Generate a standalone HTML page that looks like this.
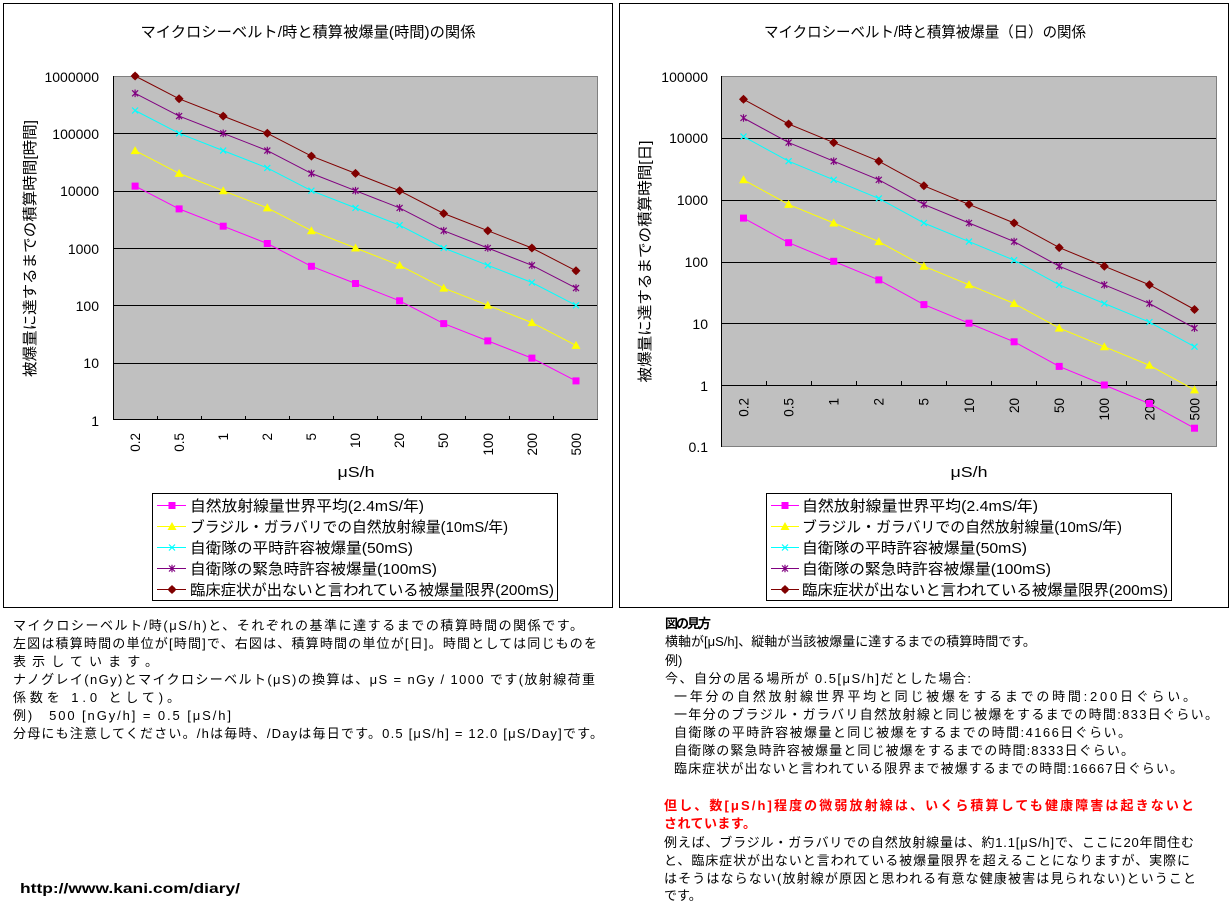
<!DOCTYPE html>
<html><head><meta charset="utf-8">
<style>
html,body{margin:0;padding:0;background:#fff;width:1232px;height:908px;overflow:hidden}
svg{display:block}
</style></head>
<body>
<svg width="1232" height="908" viewBox="0 0 1232 908" font-family="'Liberation Sans','Noto Sans CJK JP',sans-serif">
<defs>
<g id="mSq"><rect x="-3.5" y="-3.5" width="7" height="7" fill="#ff00ff"/></g>
<g id="mTri"><polygon points="0,-4.5 4.5,3.5 -4.5,3.5" fill="#ffff00"/></g>
<g id="mX"><path d="M-3,-3L3,3M-3,3L3,-3" stroke="#00ffff" stroke-width="1.2" fill="none"/></g>
<g id="mAst"><path d="M-3,-3L3,3M-3,3L3,-3M0,-3.8L0,3.8" stroke="#800080" stroke-width="1.2" fill="none"/></g>
<g id="mDia"><polygon points="0,-4.5 4.5,0 0,4.5 -4.5,0" fill="#800000"/><circle r="3.3" fill="#800000"/></g>
</defs>

<!-- ===== Frames ===== -->
<rect x="3.5" y="3.5" width="609" height="604" fill="#fff" stroke="#000" stroke-width="1"/>
<rect x="619.5" y="3.5" width="609" height="604" fill="#fff" stroke="#000" stroke-width="1"/>

<!-- ===== LEFT CHART ===== -->
<text x="308" y="37" font-size="15" text-anchor="middle" textLength="335" lengthAdjust="spacingAndGlyphs">マイクロシーベルト/時と積算被爆量(時間)の関係</text>
<rect x="113" y="76" width="485" height="344" fill="#c0c0c0"/>
<g stroke="#000" stroke-width="1" shape-rendering="crispEdges">
<line x1="113" y1="133.5" x2="598" y2="133.5"/>
<line x1="113" y1="191.5" x2="598" y2="191.5"/>
<line x1="113" y1="248.5" x2="598" y2="248.5"/>
<line x1="113" y1="305.5" x2="598" y2="305.5"/>
<line x1="113" y1="363.5" x2="598" y2="363.5"/>
</g>
<g stroke="#808080" stroke-width="1" shape-rendering="crispEdges">
<line x1="113" y1="76.5" x2="598" y2="76.5"/>
<line x1="597.5" y1="76" x2="597.5" y2="420"/>
</g>
<g stroke="#000" stroke-width="1" shape-rendering="crispEdges">
<line x1="113.5" y1="76" x2="113.5" y2="420"/>
<line x1="113" y1="419.5" x2="598" y2="419.5"/>
<line x1="157.5" y1="416" x2="157.5" y2="420"/>
<line x1="201.5" y1="416" x2="201.5" y2="420"/>
<line x1="245.5" y1="416" x2="245.5" y2="420"/>
<line x1="289.5" y1="416" x2="289.5" y2="420"/>
<line x1="333.5" y1="416" x2="333.5" y2="420"/>
<line x1="377.5" y1="416" x2="377.5" y2="420"/>
<line x1="421.5" y1="416" x2="421.5" y2="420"/>
<line x1="465.5" y1="416" x2="465.5" y2="420"/>
<line x1="509.5" y1="416" x2="509.5" y2="420"/>
<line x1="553.5" y1="416" x2="553.5" y2="420"/>
</g>
<g font-size="14" text-anchor="end" fill="#000">
<text x="99" y="82">1000000</text>
<text x="99" y="139">100000</text>
<text x="99" y="196">10000</text>
<text x="99" y="254">1000</text>
<text x="99" y="311">100</text>
<text x="99" y="368">10</text>
<text x="99" y="426">1</text>
</g>
<g font-size="13.5" text-anchor="end" fill="#000">
<text transform="translate(140,433) rotate(-90)">0.2</text>
<text transform="translate(184,433) rotate(-90)">0.5</text>
<text transform="translate(228,433) rotate(-90)">1</text>
<text transform="translate(272,433) rotate(-90)">2</text>
<text transform="translate(316,433) rotate(-90)">5</text>
<text transform="translate(360,433) rotate(-90)">10</text>
<text transform="translate(404,433) rotate(-90)">20</text>
<text transform="translate(448,433) rotate(-90)">50</text>
<text transform="translate(493,433) rotate(-90)">100</text>
<text transform="translate(537,433) rotate(-90)">200</text>
<text transform="translate(581,433) rotate(-90)">500</text>
</g>
<text transform="translate(35,248.5) rotate(-90)" font-size="15" text-anchor="middle" textLength="257" lengthAdjust="spacingAndGlyphs">被爆量に達するまでの積算時間[時間]</text>
<text x="356" y="477" font-size="15" text-anchor="middle" textLength="37" lengthAdjust="spacingAndGlyphs">μS/h</text>

<!-- series left -->
<polyline fill="none" stroke="#ff00ff" stroke-width="1" points="135.1,186.1 179.1,208.9 223.2,226.2 267.3,243.5 311.4,266.3 355.5,283.5 399.6,300.8 443.7,323.6 487.8,340.9 531.9,358.1 576,380.9"/>
<use href="#mSq" x="135.1" y="186.1"/><use href="#mSq" x="179.1" y="208.9"/><use href="#mSq" x="223.2" y="226.2"/><use href="#mSq" x="267.3" y="243.5"/><use href="#mSq" x="311.4" y="266.3"/><use href="#mSq" x="355.5" y="283.5"/><use href="#mSq" x="399.6" y="300.8"/><use href="#mSq" x="443.7" y="323.6"/><use href="#mSq" x="487.8" y="340.9"/><use href="#mSq" x="531.9" y="358.1"/><use href="#mSq" x="576" y="380.9"/>

<polyline fill="none" stroke="#ffff00" stroke-width="1" points="135.1,150.6 179.1,173.4 223.2,190.7 267.3,207.9 311.4,230.7 355.5,248 399.6,265.3 443.7,288.1 487.8,305.3 531.9,322.6 576,345.4"/>
<use href="#mTri" x="135.1" y="150.6"/><use href="#mTri" x="179.1" y="173.4"/><use href="#mTri" x="223.2" y="190.7"/><use href="#mTri" x="267.3" y="207.9"/><use href="#mTri" x="311.4" y="230.7"/><use href="#mTri" x="355.5" y="248"/><use href="#mTri" x="399.6" y="265.3"/><use href="#mTri" x="443.7" y="288.1"/><use href="#mTri" x="487.8" y="305.3"/><use href="#mTri" x="531.9" y="322.6"/><use href="#mTri" x="576" y="345.4"/>

<polyline fill="none" stroke="#00ffff" stroke-width="1" points="135.1,110.5 179.1,133.3 223.2,150.6 267.3,167.9 311.4,190.7 355.5,207.9 399.6,225.2 443.7,248 487.8,265.3 531.9,282.5 576,305.3"/>
<use href="#mX" x="135.1" y="110.5"/><use href="#mX" x="179.1" y="133.3"/><use href="#mX" x="223.2" y="150.6"/><use href="#mX" x="267.3" y="167.9"/><use href="#mX" x="311.4" y="190.7"/><use href="#mX" x="355.5" y="207.9"/><use href="#mX" x="399.6" y="225.2"/><use href="#mX" x="443.7" y="248"/><use href="#mX" x="487.8" y="265.3"/><use href="#mX" x="531.9" y="282.5"/><use href="#mX" x="576" y="305.3"/>

<polyline fill="none" stroke="#800080" stroke-width="1" points="135.1,93.3 179.1,116.1 223.2,133.3 267.3,150.6 311.4,173.4 355.5,190.7 399.6,207.9 443.7,230.7 487.8,248 531.9,265.3 576,288.1"/>
<use href="#mAst" x="135.1" y="93.3"/><use href="#mAst" x="179.1" y="116.1"/><use href="#mAst" x="223.2" y="133.3"/><use href="#mAst" x="267.3" y="150.6"/><use href="#mAst" x="311.4" y="173.4"/><use href="#mAst" x="355.5" y="190.7"/><use href="#mAst" x="399.6" y="207.9"/><use href="#mAst" x="443.7" y="230.7"/><use href="#mAst" x="487.8" y="248"/><use href="#mAst" x="531.9" y="265.3"/><use href="#mAst" x="576" y="288.1"/>

<polyline fill="none" stroke="#800000" stroke-width="1" points="135.1,76 179.1,98.8 223.2,116.1 267.3,133.3 311.4,156.1 355.5,173.4 399.6,190.7 443.7,213.5 487.8,230.7 531.9,248 576,270.8"/>
<use href="#mDia" x="135.1" y="76"/><use href="#mDia" x="179.1" y="98.8"/><use href="#mDia" x="223.2" y="116.1"/><use href="#mDia" x="267.3" y="133.3"/><use href="#mDia" x="311.4" y="156.1"/><use href="#mDia" x="355.5" y="173.4"/><use href="#mDia" x="399.6" y="190.7"/><use href="#mDia" x="443.7" y="213.5"/><use href="#mDia" x="487.8" y="230.7"/><use href="#mDia" x="531.9" y="248"/><use href="#mDia" x="576" y="270.8"/>

<!-- legend left -->
<rect x="152.5" y="493.5" width="405" height="107" fill="#fff" stroke="#000" stroke-width="1"/>
<g stroke-width="1">
<line x1="157" y1="505.5" x2="186" y2="505.5" stroke="#ff00ff"/><use href="#mSq" x="172" y="505.5"/>
<line x1="157" y1="526.5" x2="186" y2="526.5" stroke="#ffff00"/><use href="#mTri" x="172" y="526.5"/>
<line x1="157" y1="547.5" x2="186" y2="547.5" stroke="#00ffff"/><use href="#mX" x="172" y="547.5"/>
<line x1="157" y1="568.5" x2="186" y2="568.5" stroke="#800080"/><use href="#mAst" x="172" y="568.5"/>
<line x1="157" y1="589.5" x2="186" y2="589.5" stroke="#800000"/><use href="#mDia" x="172" y="589.5"/>
</g>
<g font-size="15" fill="#000">
<text x="190" y="511" textLength="234" lengthAdjust="spacingAndGlyphs">自然放射線量世界平均(2.4mS/年)</text>
<text x="190" y="532" textLength="318" lengthAdjust="spacingAndGlyphs">ブラジル・ガラバリでの自然放射線量(10mS/年)</text>
<text x="190" y="553" textLength="223" lengthAdjust="spacingAndGlyphs">自衛隊の平時許容被爆量(50mS)</text>
<text x="190" y="574" textLength="247" lengthAdjust="spacingAndGlyphs">自衛隊の緊急時許容被爆量(100mS)</text>
<text x="190" y="595" textLength="364" lengthAdjust="spacingAndGlyphs">臨床症状が出ないと言われている被爆量限界(200mS)</text>
</g>

<!-- ===== RIGHT CHART ===== -->
<text x="925" y="37" font-size="15" text-anchor="middle" textLength="322" lengthAdjust="spacingAndGlyphs">マイクロシーベルト/時と積算被爆量（日）の関係</text>
<rect x="721" y="76" width="496" height="371" fill="#c0c0c0"/>
<g stroke="#000" stroke-width="1" shape-rendering="crispEdges">
<line x1="721" y1="138.5" x2="1217" y2="138.5"/>
<line x1="721" y1="200.5" x2="1217" y2="200.5"/>
<line x1="721" y1="262.5" x2="1217" y2="262.5"/>
<line x1="721" y1="323.5" x2="1217" y2="323.5"/>
</g>
<g stroke="#808080" stroke-width="1" shape-rendering="crispEdges">
<line x1="721" y1="76.5" x2="1217" y2="76.5"/>
<line x1="1216.5" y1="76" x2="1216.5" y2="447"/>
<line x1="721" y1="446.5" x2="1217" y2="446.5"/>
</g>
<g stroke="#000" stroke-width="1" shape-rendering="crispEdges">
<line x1="721.5" y1="76" x2="721.5" y2="447"/>
<line x1="721" y1="385.5" x2="1217" y2="385.5"/>
<line x1="766.5" y1="381" x2="766.5" y2="385"/>
<line x1="811.5" y1="381" x2="811.5" y2="385"/>
<line x1="856.5" y1="381" x2="856.5" y2="385"/>
<line x1="901.5" y1="381" x2="901.5" y2="385"/>
<line x1="946.5" y1="381" x2="946.5" y2="385"/>
<line x1="991.5" y1="381" x2="991.5" y2="385"/>
<line x1="1036.5" y1="381" x2="1036.5" y2="385"/>
<line x1="1081.5" y1="381" x2="1081.5" y2="385"/>
<line x1="1126.5" y1="381" x2="1126.5" y2="385"/>
<line x1="1171.5" y1="381" x2="1171.5" y2="385"/>
<line x1="1216.5" y1="381" x2="1216.5" y2="385"/>
</g>
<g font-size="14" text-anchor="end" fill="#000">
<text x="708" y="82">100000</text>
<text x="708" y="143">10000</text>
<text x="708" y="205">1000</text>
<text x="708" y="267">100</text>
<text x="708" y="329">10</text>
<text x="708" y="391">1</text>
<text x="708" y="452">0.1</text>
</g>
<g font-size="13.5" text-anchor="end" fill="#000">
<text transform="translate(748.5,398) rotate(-90)">0.2</text>
<text transform="translate(793.5,398) rotate(-90)">0.5</text>
<text transform="translate(838.5,398) rotate(-90)">1</text>
<text transform="translate(883.5,398) rotate(-90)">2</text>
<text transform="translate(928.5,398) rotate(-90)">5</text>
<text transform="translate(974,398) rotate(-90)">10</text>
<text transform="translate(1019,398) rotate(-90)">20</text>
<text transform="translate(1064,398) rotate(-90)">50</text>
<text transform="translate(1109,398) rotate(-90)">100</text>
<text transform="translate(1154.5,398) rotate(-90)">200</text>
<text transform="translate(1199.5,398) rotate(-90)">500</text>
</g>
<text transform="translate(650,261.5) rotate(-90)" font-size="15" text-anchor="middle" textLength="242" lengthAdjust="spacingAndGlyphs">被爆量に達するまでの積算時間[日]</text>
<text x="969" y="477" font-size="15" text-anchor="middle" textLength="37" lengthAdjust="spacingAndGlyphs">μS/h</text>

<!-- series right -->
<polyline fill="none" stroke="#ff00ff" stroke-width="1" points="743.5,218.1 788.6,242.7 833.7,261.3 878.8,279.9 923.9,304.6 969,323.2 1014.1,341.8 1059.2,366.4 1104.3,385 1149.4,403.6 1194.5,428.2"/>
<use href="#mSq" x="743.5" y="218.1"/><use href="#mSq" x="788.6" y="242.7"/><use href="#mSq" x="833.7" y="261.3"/><use href="#mSq" x="878.8" y="279.9"/><use href="#mSq" x="923.9" y="304.6"/><use href="#mSq" x="969" y="323.2"/><use href="#mSq" x="1014.1" y="341.8"/><use href="#mSq" x="1059.2" y="366.4"/><use href="#mSq" x="1104.3" y="385"/><use href="#mSq" x="1149.4" y="403.6"/><use href="#mSq" x="1194.5" y="428.2"/>

<polyline fill="none" stroke="#ffff00" stroke-width="1" points="743.5,179.8 788.6,204.4 833.7,223 878.8,241.6 923.9,266.2 969,284.8 1014.1,303.5 1059.2,328.1 1104.3,346.7 1149.4,365.3 1194.5,389.9"/>
<use href="#mTri" x="743.5" y="179.8"/><use href="#mTri" x="788.6" y="204.4"/><use href="#mTri" x="833.7" y="223"/><use href="#mTri" x="878.8" y="241.6"/><use href="#mTri" x="923.9" y="266.2"/><use href="#mTri" x="969" y="284.8"/><use href="#mTri" x="1014.1" y="303.5"/><use href="#mTri" x="1059.2" y="328.1"/><use href="#mTri" x="1104.3" y="346.7"/><use href="#mTri" x="1149.4" y="365.3"/><use href="#mTri" x="1194.5" y="389.9"/>

<polyline fill="none" stroke="#00ffff" stroke-width="1" points="743.5,136.6 788.6,161.2 833.7,179.8 878.8,198.4 923.9,223 969,241.6 1014.1,260.2 1059.2,284.8 1104.3,303.5 1149.4,322.1 1194.5,346.7"/>
<use href="#mX" x="743.5" y="136.6"/><use href="#mX" x="788.6" y="161.2"/><use href="#mX" x="833.7" y="179.8"/><use href="#mX" x="878.8" y="198.4"/><use href="#mX" x="923.9" y="223"/><use href="#mX" x="969" y="241.6"/><use href="#mX" x="1014.1" y="260.2"/><use href="#mX" x="1059.2" y="284.8"/><use href="#mX" x="1104.3" y="303.5"/><use href="#mX" x="1149.4" y="322.1"/><use href="#mX" x="1194.5" y="346.7"/>

<polyline fill="none" stroke="#800080" stroke-width="1" points="743.5,118 788.6,142.6 833.7,161.2 878.8,179.8 923.9,204.4 969,223 1014.1,241.6 1059.2,266.2 1104.3,284.8 1149.4,303.5 1194.5,328.1"/>
<use href="#mAst" x="743.5" y="118"/><use href="#mAst" x="788.6" y="142.6"/><use href="#mAst" x="833.7" y="161.2"/><use href="#mAst" x="878.8" y="179.8"/><use href="#mAst" x="923.9" y="204.4"/><use href="#mAst" x="969" y="223"/><use href="#mAst" x="1014.1" y="241.6"/><use href="#mAst" x="1059.2" y="266.2"/><use href="#mAst" x="1104.3" y="284.8"/><use href="#mAst" x="1149.4" y="303.5"/><use href="#mAst" x="1194.5" y="328.1"/>

<polyline fill="none" stroke="#800000" stroke-width="1" points="743.5,99.3 788.6,124 833.7,142.6 878.8,161.2 923.9,185.8 969,204.4 1014.1,223 1059.2,247.6 1104.3,266.2 1149.4,284.8 1194.5,309.5"/>
<use href="#mDia" x="743.5" y="99.3"/><use href="#mDia" x="788.6" y="124"/><use href="#mDia" x="833.7" y="142.6"/><use href="#mDia" x="878.8" y="161.2"/><use href="#mDia" x="923.9" y="185.8"/><use href="#mDia" x="969" y="204.4"/><use href="#mDia" x="1014.1" y="223"/><use href="#mDia" x="1059.2" y="247.6"/><use href="#mDia" x="1104.3" y="266.2"/><use href="#mDia" x="1149.4" y="284.8"/><use href="#mDia" x="1194.5" y="309.5"/>

<!-- legend right -->
<rect x="766.5" y="493.5" width="405" height="107" fill="#fff" stroke="#000" stroke-width="1"/>
<g stroke-width="1">
<line x1="771" y1="505.5" x2="799" y2="505.5" stroke="#ff00ff"/><use href="#mSq" x="785" y="505.5"/>
<line x1="771" y1="526.5" x2="799" y2="526.5" stroke="#ffff00"/><use href="#mTri" x="785" y="526.5"/>
<line x1="771" y1="547.5" x2="799" y2="547.5" stroke="#00ffff"/><use href="#mX" x="785" y="547.5"/>
<line x1="771" y1="568.5" x2="799" y2="568.5" stroke="#800080"/><use href="#mAst" x="785" y="568.5"/>
<line x1="771" y1="589.5" x2="799" y2="589.5" stroke="#800000"/><use href="#mDia" x="785" y="589.5"/>
</g>
<g font-size="15" fill="#000">
<text x="802" y="511" textLength="236" lengthAdjust="spacingAndGlyphs">自然放射線量世界平均(2.4mS/年)</text>
<text x="802" y="532" textLength="320" lengthAdjust="spacingAndGlyphs">ブラジル・ガラバリでの自然放射線量(10mS/年)</text>
<text x="802" y="553" textLength="225" lengthAdjust="spacingAndGlyphs">自衛隊の平時許容被爆量(50mS)</text>
<text x="802" y="574" textLength="249" lengthAdjust="spacingAndGlyphs">自衛隊の緊急時許容被爆量(100mS)</text>
<text x="802" y="595" textLength="366" lengthAdjust="spacingAndGlyphs">臨床症状が出ないと言われている被爆量限界(200mS)</text>
</g>

<!-- ===== LEFT TEXT BLOCK ===== -->
<g font-size="13" fill="#000">
<text x="13" y="630" textLength="570" lengthAdjust="spacing">マイクロシーベルト/時(μS/h)と、それぞれの基準に達するまでの積算時間の関係です。</text>
<text x="13" y="648" textLength="584" lengthAdjust="spacing">左図は積算時間の単位が[時間]で、右図は、積算時間の単位が[日]。時間としては同じものを</text>
<text x="13" y="666" textLength="145" lengthAdjust="spacing">表示しています。</text>
<text x="13" y="684" textLength="582" lengthAdjust="spacing">ナノグレイ(nGy)とマイクロシーベルト(μS)の換算は、μS = nGy / 1000 です(放射線荷重</text>
<text x="13" y="702" textLength="167" lengthAdjust="spacing">係数を 1.0 として)。</text>
<text x="13" y="720" textLength="218" lengthAdjust="spacing">例)　500 [nGy/h] = 0.5 [μS/h]</text>
<text x="13" y="738" textLength="590" lengthAdjust="spacing">分母にも注意してください。/hは毎時、/Dayは毎日です。0.5 [μS/h] = 12.0 [μS/Day]です。</text>
</g>
<text x="20" y="893" font-size="14" font-weight="bold" fill="#000" textLength="220" lengthAdjust="spacingAndGlyphs">http://www.kani.com/diary/</text>

<!-- ===== RIGHT TEXT BLOCK ===== -->
<g font-size="13" fill="#000">
<text x="665" y="628" font-weight="bold" textLength="46" lengthAdjust="spacing">図の見方</text>
<text x="665" y="646">横軸が[μS/h]、縦軸が当該被爆量に達するまでの積算時間です。</text>
<text x="665" y="665">例)</text>
<text x="665" y="683" textLength="306" lengthAdjust="spacing">今、自分の居る場所が 0.5[μS/h]だとした場合:</text>
<text x="674" y="701" textLength="522" lengthAdjust="spacing">一年分の自然放射線世界平均と同じ被爆をするまでの時間:200日ぐらい。</text>
<text x="674" y="719" textLength="544" lengthAdjust="spacing">一年分のブラジル・ガラバリ自然放射線と同じ被爆をするまでの時間:833日ぐらい。</text>
<text x="674" y="737" textLength="457" lengthAdjust="spacing">自衛隊の平時許容被爆量と同じ被爆をするまでの時間:4166日ぐらい。</text>
<text x="674" y="755" textLength="460" lengthAdjust="spacing">自衛隊の緊急時許容被爆量と同じ被爆をするまでの時間:8333日ぐらい。</text>
<text x="674" y="773" textLength="509" lengthAdjust="spacing">臨床症状が出ないと言われている限界まで被爆するまでの時間:16667日ぐらい。</text>
<text x="664" y="810" font-weight="bold" fill="#ff0000" textLength="530" lengthAdjust="spacing">但し、数[μS/h]程度の微弱放射線は、いくら積算しても健康障害は起きないと</text>
<text x="664" y="828" font-weight="bold" fill="#ff0000" textLength="92" lengthAdjust="spacing">されています。</text>
<text x="664" y="847" textLength="530" lengthAdjust="spacing">例えば、ブラジル・ガラバリでの自然放射線量は、約1.1[μS/h]で、ここに20年間住む</text>
<text x="664" y="865" textLength="526" lengthAdjust="spacing">と、臨床症状が出ないと言われている被爆量限界を超えることになりますが、実際に</text>
<text x="664" y="883" textLength="532" lengthAdjust="spacing">はそうはならない(放射線が原因と思われる有意な健康被害は見られない)ということ</text>
<text x="664" y="900">です。</text>
</g>
</svg>
</body></html>
